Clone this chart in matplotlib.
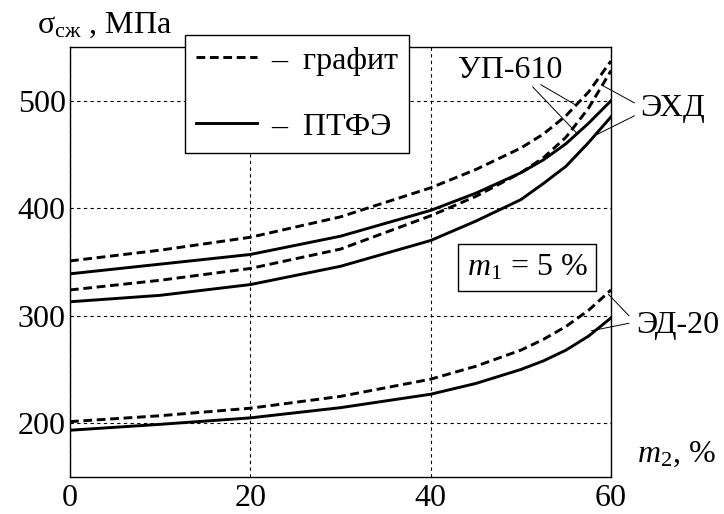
import matplotlib
matplotlib.use('Agg')
import matplotlib.pyplot as plt
from matplotlib.lines import Line2D

plt.rcParams['font.family'] = ['Liberation Serif', 'DejaVu Serif']
plt.rcParams['mathtext.fontset'] = 'custom'
plt.rcParams['mathtext.rm'] = 'Liberation Serif'
plt.rcParams['mathtext.it'] = 'Liberation Serif:italic'
plt.rcParams['font.size'] = 23

# m2, %
m2 = [0, 10, 20, 30, 40, 45, 50, 52.5, 55, 57.5, 60]
# sigma_cж, MPa  (dashed = graphite, solid = PTFE)
up610_graphite = [351, 361, 373, 392, 419, 436, 456, 469, 486, 508, 537]
up610_ptfe = [339, 348, 357, 374, 398, 414, 433, 445, 460, 479, 500]
ehd_graphite = [324, 333, 344, 362, 393, 411, 433, 447, 466, 493, 528]
ehd_ptfe = [313, 319, 329, 346, 370, 388, 408, 423, 439, 461, 485]
ed20_graphite = [201.5, 207, 214, 225, 241, 253, 268, 278, 290, 305, 324]
ed20_ptfe = [193.5, 199, 205, 214.5, 227, 237, 250, 258, 268, 281, 298]

x_ticks = [0, 20, 40, 60]
y_ticks = [200, 300, 400, 500]

fig = plt.figure(figsize=(7.24, 5.14), dpi=100)
ax = fig.add_axes([70/724, 37/514, 541/724, 430/514])

dash = (0, (3, 1.6))
lw = 2.1
for g, p in [(up610_graphite, up610_ptfe), (ehd_graphite, ehd_ptfe), (ed20_graphite, ed20_ptfe)]:
    ax.plot(m2, g, color='black', lw=lw, linestyle=dash)
    ax.plot(m2, p, color='black', lw=lw)

ax.set_xlim(0, 60)
ax.set_ylim(150, 550)
ax.set_xticks(x_ticks)
ax.set_yticks(y_ticks)
ax.tick_params(length=0)
ax.tick_params(axis='y', pad=3)
ax.tick_params(axis='x', pad=5)
ax.grid(True, color='black', lw=0.8, linestyle=(0, (3, 3)))
for s in ax.spines.values():
    s.set_linewidth(1.0)

# legend
h = [Line2D([], [], color='black', lw=lw, linestyle=dash),
     Line2D([], [], color='black', lw=lw)]
leg = fig.legend(h, ['–  графит', '–  ПТФЭ'], loc='upper left',
                 bbox_to_anchor=(185/724, 1 - 35/514), borderaxespad=0,
                 fancybox=False, framealpha=1, edgecolor='black',
                 handlelength=1.9, handletextpad=0.45, labelspacing=1.15,
                 borderpad=0.35, fontsize=23)
leg.get_frame().set_linewidth(1.0)

# labels
fig.text(37/724, 1 - 33/514, r'$\mathrm{σ}_{\mathrm{сж}}$ , МПа', ha='left', va='baseline')
ax.text(62.9, 164, r'$m_2$, %', ha='left', va='baseline', clip_on=False)
ax.text(50.7, 345, r'$m_1$ = 5 %', ha='center', va='center',
        bbox=dict(boxstyle='square,pad=0.28', fc='white', ec='black', lw=1.0))

# curve labels
arr = dict(arrowstyle='-', color='black', lw=0.7, shrinkA=0, shrinkB=0)
ax.text(48.8, 528, 'УП-610', ha='center', va='center')
ax.annotate('', xy=(56.1, 496), xytext=(52.2, 515), arrowprops=arr, annotation_clip=False)
ax.annotate('', xy=(56.3, 469), xytext=(51.3, 513), arrowprops=arr, annotation_clip=False)
ax.text(66.8, 492.6, 'ЭХД', ha='center', va='center', clip_on=False)
ax.annotate('', xy=(59.1, 514), xytext=(62.6, 498), arrowprops=arr, annotation_clip=False)
ax.annotate('', xy=(58.3, 468), xytext=(62.6, 486), arrowprops=arr, annotation_clip=False)
ax.text(67.4, 291, 'ЭД-20', ha='center', va='center', clip_on=False)
ax.annotate('', xy=(59.7, 320), xytext=(62.0, 300), arrowprops=arr, annotation_clip=False)
ax.annotate('', xy=(57.8, 286), xytext=(62.0, 293), arrowprops=arr, annotation_clip=False)

fig.savefig('out.png', dpi=100)
